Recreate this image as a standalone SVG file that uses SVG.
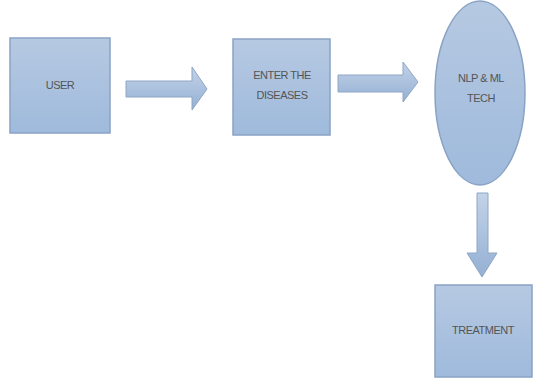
<svg xmlns="http://www.w3.org/2000/svg" width="535" height="380" viewBox="0 0 535 380">
<defs>
<linearGradient id="g" x1="0" y1="0" x2="0" y2="1">
<stop offset="0" stop-color="#b6c9e2"/>
<stop offset="1" stop-color="#9fbadc"/>
</linearGradient>
<linearGradient id="ga" x1="0" y1="0" x2="0" y2="1">
<stop offset="0" stop-color="#c3d3e8"/>
<stop offset="1" stop-color="#94b0d4"/>
</linearGradient>
</defs>
<style>
.n{fill:url(#g);stroke:#8aa3c4;stroke-width:1.5}
.a{fill:url(#ga);stroke:#8fa6c4;stroke-width:1}
.t{font-family:"Liberation Sans",Arial,sans-serif;font-size:11px;fill:#555;text-anchor:middle;letter-spacing:-0.5px}
</style>
<rect width="535" height="380" fill="#fff"/>
<g id="user">
<rect class="n" x="10" y="38" width="100" height="95"/>
<text class="t" x="60" y="89">USER</text>
</g>
<g id="enter">
<rect class="n" x="233" y="39" width="97" height="96"/>
<text class="t" x="282" y="79">ENTER THE</text>
<text class="t" x="282" y="99">DISEASES</text>
</g>
<g id="nlp">
<ellipse class="n" cx="480" cy="93" rx="45" ry="92"/>
<text class="t" x="481" y="82">NLP &amp; ML</text>
<text class="t" x="481" y="102">TECH</text>
</g>
<g id="treatment">
<rect class="n" x="435" y="285" width="97" height="92"/>
<text class="t" x="483" y="334">TREATMENT</text>
</g>
<g id="connectors">
<polygon class="a" points="126,81 192,81 192,67 207,89 192,110 192,97 126,97"/>
<polygon class="a" points="338,75 403,75 403,62 418,82 403,102 403,92 338,92"/>
<polygon class="a" points="477,193 488,193 488,253 497,253 482,277 467,253 477,253"/>
</g>
</svg>
